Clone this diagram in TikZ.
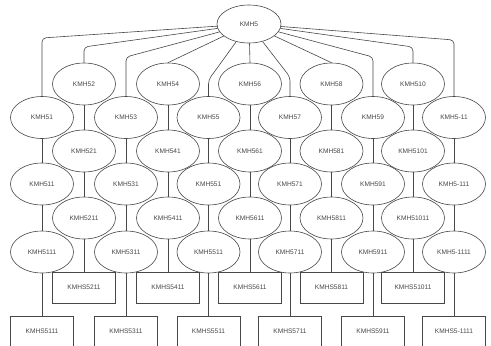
\documentclass[tikz,border=0pt]{standalone}
\usepackage{fontspec}
\setmainfont{Liberation Sans}
\usetikzlibrary{shapes.geometric,backgrounds}
\begin{document}
\begin{tikzpicture}[x=1pt,y=-1pt,
  lbl/.style={font=\fontsize{6.6}{7}\selectfont,text=black!72},
  ell/.style={ellipse,draw=black!72,fill=white,line width=0.6pt,minimum width=63pt,minimum height=42pt,inner sep=0pt,lbl},
  box/.style={rectangle,draw=black!72,fill=white,line width=0.6pt,minimum width=63pt,minimum height=31pt,inner sep=0pt,lbl},
  link/.style={draw=black!72,line width=0.6pt,rounded corners=4pt}]
\useasboundingbox (0,0) rectangle (491,346);
\node[ell,minimum width=64pt,minimum height=38pt] (root) at (249,24) {KMH5};
% even columns: rows A, C, E, G
\foreach \i/\x/\s in {2/84/2,4/168/4,6/250/6,8/331.5/8,10/413/10}{
  \node[ell] (L1-\i) at (\x,84) {KMH5\s};
}
\foreach \i/\x/\s in {1/42/1,3/126/3,5/208.5/5,7/290/7,9/373/9,11/454/-11}{
  \node[ell] (L1-\i) at (\x,117.5) {KMH5\s};
}
\foreach \i/\x/\s in {2/84/2,4/168/4,6/250/6,8/331.5/8,10/413/10}{
  \node[ell] (L2-\i) at (\x,151) {KMH5\s1};
}
\foreach \i/\x/\s in {1/42/1,3/126/3,5/208.5/5,7/290/7,9/373/9,11/454/-11}{
  \node[ell] (L2-\i) at (\x,184) {KMH5\s1};
}
\foreach \i/\x/\s in {2/84/2,4/168/4,6/250/6,8/331.5/8,10/413/10}{
  \node[ell] (L3-\i) at (\x,218) {KMH5\s11};
}
\foreach \i/\x/\s in {1/42/1,3/126/3,5/208.5/5,7/290/7,9/373/9,11/454/-11}{
  \node[ell] (L3-\i) at (\x,252) {KMH5\s11};
}
\foreach \i/\x/\s in {2/84/2,4/168/4,6/250/6,8/331.5/8,10/413/10}{
  \node[box] (L4-\i) at (\x,287.5) {KMHS5\s11};
}
\foreach \i/\x/\s in {1/42/1,3/126/3,5/208.5/5,7/290/7,9/373/9,11/454/-11}{
  \node[box] (L4-\i) at (\x,331.5) {KMHS5\s11};
}
\begin{pgfonlayer}{background}
  \foreach \i/\x/\cy in {1/42/38,2/84/47,3/126/57,5/208.5/80,7/290/77,9/373/57,10/413/47,11/454/40}{
    \draw[link] (root) -- (\x,\cy) -- (L1-\i);
  }
  \foreach \i in {4,6,8}{
    \draw[link] (root) -- (L1-\i.north);
  }
  \foreach \i in {1,...,11}{
    \draw[link] (L1-\i) -- (L2-\i);
    \draw[link] (L2-\i) -- (L3-\i);
    \draw[link] (L3-\i) -- (L4-\i);
  }
\end{pgfonlayer}
\end{tikzpicture}
\end{document}
